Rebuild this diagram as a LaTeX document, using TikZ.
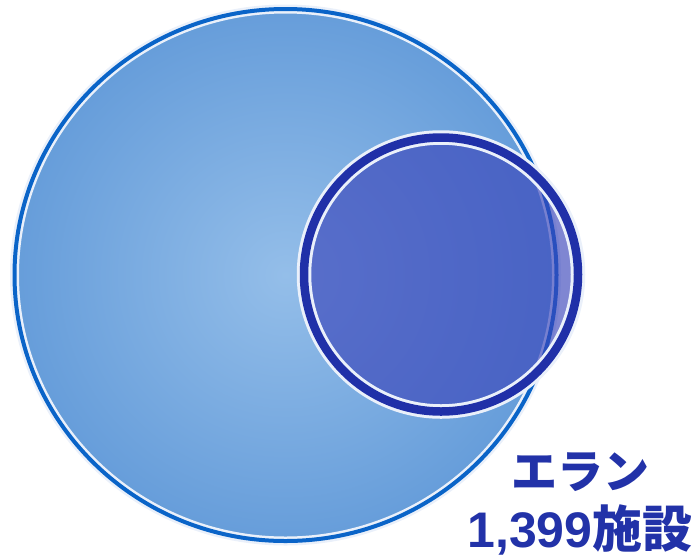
\documentclass[tikz,border=0pt]{standalone}
\usepackage{fontspec}
\newfontfamily\cjk{Noto Sans CJK JP}
\newfontfamily\lat{Liberation Sans}
\definecolor{bigin}{HTML}{94BEE9}
\definecolor{bigout}{HTML}{669DDA}
\definecolor{bigline}{HTML}{0A64C8}
\definecolor{halo}{HTML}{EAF0FA}
\definecolor{smallfill}{HTML}{3A45BA}
\definecolor{ringcol}{HTML}{2030A8}
\definecolor{txtcol}{HTML}{2232A8}
\tikzset{
  bigshape/.style={x radius=271pt, y radius=266pt},
  smallshape/.style={radius=137pt},
  labeltext/.style={text=txtcol, font=\cjk\bfseries\fontsize{46}{46}\selectfont, inner sep=0pt}
}
\begin{document}
\begin{tikzpicture}[x=1pt,y=-1pt]
\useasboundingbox (0,0) rectangle (699,558);
\coordinate (bc) at (285.5,275);
\coordinate (sc) at (441,274.5);
% big circle
\shade[inner color=bigin, outer color=bigout] (bc) ellipse [bigshape];
\draw[halo, line width=9pt] (bc) ellipse [bigshape];
\draw[bigline, line width=4pt] (bc) ellipse [bigshape];
% small circle
\fill[smallfill, fill opacity=0.65] (sc) circle [smallshape];
\draw[halo, line width=14.5pt] (sc) circle [smallshape];
\draw[ringcol, line width=8.5pt] (sc) circle [smallshape];
% labels
\node[labeltext] (name) at (580,472) {エラン};
\node[labeltext, font=\cjk\bfseries\fontsize{50}{50}\selectfont] (count) at (580,530) {{\lat\bfseries 1,399}施設};
\end{tikzpicture}
\end{document}
